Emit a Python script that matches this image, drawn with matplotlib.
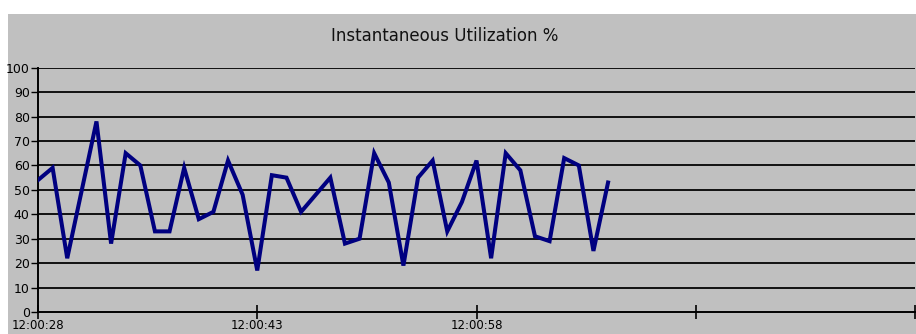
import matplotlib
matplotlib.use("Agg")
import matplotlib.pyplot as plt
from matplotlib.patches import Rectangle

# Data: one sample per second starting at 12:00:28
seconds = list(range(40))
utilization = [54, 59, 22, 50, 78, 28, 65, 60, 33, 33,
               59, 38, 41, 62, 48, 17, 56, 55, 41, 48,
               55, 28, 30, 65, 53, 19, 55, 62, 33, 45,
               62, 22, 65, 58, 31, 29, 63, 60, 25, 53]
tick_positions = [0, 15, 30, 45, 60]
tick_labels = ["12:00:28", "12:00:43", "12:00:58", "", ""]
y_ticks = list(range(0, 101, 10))
title = "Instantaneous Utilization %"

W, H = 916, 334
fig = plt.figure(figsize=(W / 100, H / 100), dpi=100, facecolor="white")

# gray chart area
fig.patches.append(Rectangle((8 / W, 0), (W - 8) / W, (H - 14) / H,
                             transform=fig.transFigure, facecolor="#c0c0c0",
                             edgecolor="none", zorder=-10))

left, right = 38 / W, 915 / W
bottom, top = (H - 312) / H, (H - 67.7) / H
ax = fig.add_axes([left, bottom, right - left, top - bottom])
ax.set_facecolor("none")
ax.set_zorder(2)

ax.plot(seconds, utilization, color="#000080", linewidth=2.9,
        solid_joinstyle="miter", zorder=3)

ax.set_xlim(0, 60)
ax.set_ylim(0, 100)
ax.set_yticks(y_ticks)
ax.set_yticklabels([str(v) for v in y_ticks])
ax.set_xticks(tick_positions)
ax.set_xticklabels(tick_labels)

for v in y_ticks[1:]:
    ax.axhline(v, color="#111111", linewidth=1.4, zorder=1)

for s in ["top", "right"]:
    ax.spines[s].set_visible(False)
for s in ["left", "bottom"]:
    ax.spines[s].set_color("black")
    ax.spines[s].set_linewidth(1.4)

ax.tick_params(axis="y", direction="out", length=5, width=1, pad=1,
               labelsize=9, colors="black")
ax.tick_params(axis="x", direction="inout", length=10, width=1.2, pad=0,
               labelsize=8.5, colors="black")

fig.text(445 / W, (H - 36) / H, title, ha="center", va="center",
         fontsize=12, color="#111111")

fig.savefig("out.png", dpi=100, facecolor="white")
